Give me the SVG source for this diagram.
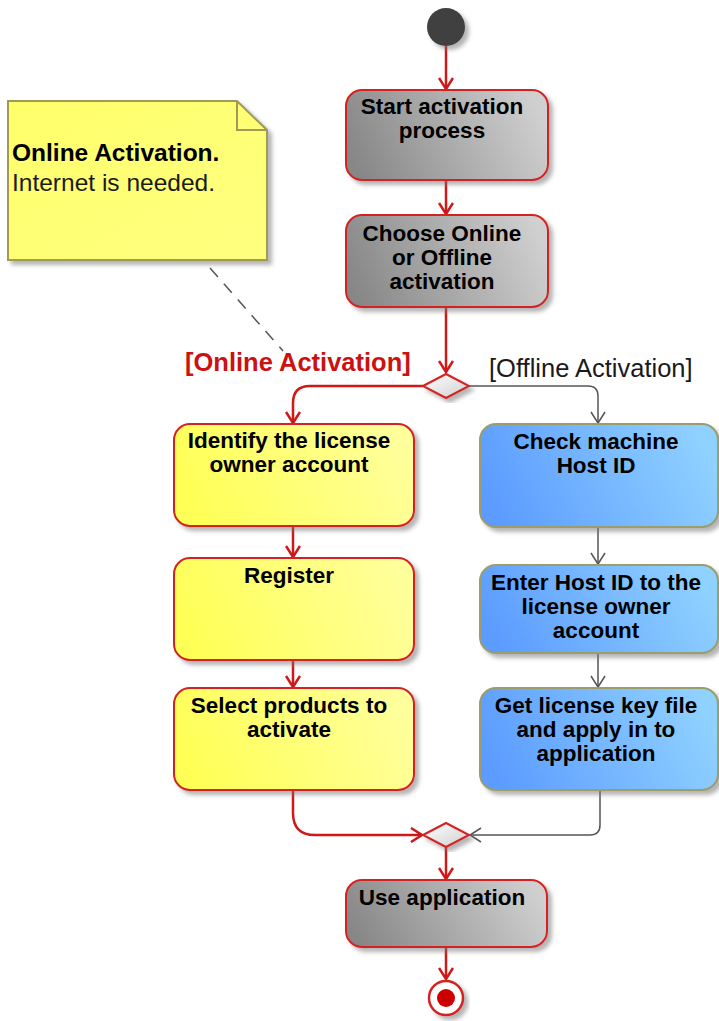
<svg xmlns="http://www.w3.org/2000/svg" width="719" height="1021" viewBox="0 0 719 1021">
<defs>
<linearGradient id="gGray" x1="0" y1="0.6" x2="1" y2="0.4"><stop offset="0" stop-color="#878787"/><stop offset="1" stop-color="#d0d0d0"/></linearGradient>
<linearGradient id="gYel" x1="0" y1="0.6" x2="1" y2="0.4"><stop offset="0" stop-color="#ffff55"/><stop offset="1" stop-color="#ffff9c"/></linearGradient>
<linearGradient id="gBlue" x1="0" y1="0.6" x2="1" y2="0.4"><stop offset="0" stop-color="#5b9bff"/><stop offset="1" stop-color="#90d2ff"/></linearGradient>
<linearGradient id="gNote" x1="0" y1="0" x2="1" y2="1"><stop offset="0" stop-color="#ffff6a"/><stop offset="1" stop-color="#ffff80"/></linearGradient>
<linearGradient id="gDia" x1="0" y1="0" x2="1" y2="1"><stop offset="0" stop-color="#ffffff"/><stop offset="1" stop-color="#cfcfcf"/></linearGradient>
<filter id="sh" x="-10%" y="-10%" width="130%" height="130%"><feDropShadow dx="4" dy="4" stdDeviation="2" flood-color="#777" flood-opacity="0.55"/></filter>
<marker id="aRed" viewBox="0 0 14 16" refX="12" refY="8" markerWidth="14" markerHeight="16" markerUnits="userSpaceOnUse" orient="auto"><path d="M1,1 L12,8 L1,15" fill="none" stroke="#d01818" stroke-width="2.5"/></marker>
<marker id="aGray" viewBox="0 0 14 16" refX="12" refY="8" markerWidth="14" markerHeight="16" markerUnits="userSpaceOnUse" orient="auto"><path d="M1,1 L12,8 L1,15" fill="none" stroke="#555" stroke-width="1.5"/></marker>
</defs>
<style>
.nt{font-family:"Liberation Sans",Arial,sans-serif;font-weight:bold;font-size:22.5px;fill:#000;text-anchor:middle}
.gray{fill:url(#gGray);stroke:#d42424;stroke-width:2}
.yel{fill:url(#gYel);stroke:#d42424;stroke-width:2}
.blue{fill:url(#gBlue);stroke:#9c9c6c;stroke-width:2}
.red{fill:none;stroke:#d01818;stroke-width:2.5}
.gr{fill:none;stroke:#555;stroke-width:1.5}
</style>
<rect width="719" height="1021" fill="#fff"/>

<g id="connectors">
<path class="red" d="M446,46 V89" marker-end="url(#aRed)"/>
<path class="red" d="M446,180 V214" marker-end="url(#aRed)"/>
<path class="red" d="M446,307 V372" marker-end="url(#aRed)"/>
<path class="red" d="M423,386 H310 Q293,386 293,403 V423" marker-end="url(#aRed)"/>
<path class="gr" d="M469,386 H588 Q598,386 598,396 V423" marker-end="url(#aGray)"/>
<path class="red" d="M293,526 V557" marker-end="url(#aRed)"/>
<path class="red" d="M293,660 V687" marker-end="url(#aRed)"/>
<path class="gr" d="M598,527 V564" marker-end="url(#aGray)"/>
<path class="gr" d="M598,653 V687" marker-end="url(#aGray)"/>
<path class="red" d="M293,790 V813 Q293,835 315,835 H422" marker-end="url(#aRed)"/>
<path class="gr" d="M600,790 V825 Q600,835 590,835 H470" marker-end="url(#aGray)"/>
<path class="red" d="M446,847 V879" marker-end="url(#aRed)"/>
<path class="red" d="M446,947 V979" marker-end="url(#aRed)"/>
<path d="M210,268 L283,351" fill="none" stroke="#555" stroke-width="1.5" stroke-dasharray="12,9"/>
<text x="185" y="371" font-family="Liberation Sans,Arial,sans-serif" font-weight="bold" font-size="25.5" fill="#cc1111">[Online Activation]</text>
<text x="489" y="377" font-family="Liberation Sans,Arial,sans-serif" font-size="25.5" fill="#1a1a1a">[Offline Activation]</text>
</g>

<g id="note">
<path d="M8,101 H237 L267,130 V260 H8 Z" fill="url(#gNote)" stroke="#a09a55" stroke-width="2" filter="url(#sh)"/>
<path d="M237,101 V130 H267" fill="none" stroke="#a09a55" stroke-width="2"/>
<text x="12" y="161" font-family="Liberation Sans,Arial,sans-serif" font-weight="bold" font-size="24.5" fill="#000">Online Activation.</text>
<text x="12" y="191" font-family="Liberation Sans,Arial,sans-serif" font-size="24.5" fill="#1a1a1a">Internet is needed.</text>
</g>

<g id="initial"><circle cx="446" cy="27" r="19" fill="#404040" filter="url(#sh)"/></g>

<g id="start">
<rect class="gray" x="346" y="90" width="202" height="90" rx="16" filter="url(#sh)"/>
<text class="nt" x="442" y="114">Start activation</text>
<text class="nt" x="442" y="138">process</text>
</g>

<g id="choose">
<rect class="gray" x="346" y="215" width="202" height="92" rx="16" filter="url(#sh)"/>
<text class="nt" x="442" y="241">Choose Online</text>
<text class="nt" x="442" y="265">or Offline</text>
<text class="nt" x="442" y="289">activation</text>
</g>

<g id="decision"><path d="M423,386 L446,374 L469,386 L446,398 Z" fill="url(#gDia)" stroke="#d42424" stroke-width="2" filter="url(#sh)"/></g>

<g id="identify">
<rect class="yel" x="174" y="424" width="240" height="102" rx="16" filter="url(#sh)"/>
<text class="nt" x="289" y="448">Identify the license</text>
<text class="nt" x="289" y="472">owner account</text>
</g>

<g id="register">
<rect class="yel" x="174" y="558" width="240" height="102" rx="16" filter="url(#sh)"/>
<text class="nt" x="289" y="583">Register</text>
</g>

<g id="select">
<rect class="yel" x="174" y="688" width="240" height="102" rx="16" filter="url(#sh)"/>
<text class="nt" x="289" y="713">Select products to</text>
<text class="nt" x="289" y="737">activate</text>
</g>

<g id="check">
<rect class="blue" x="480" y="424" width="238" height="103" rx="16" filter="url(#sh)"/>
<text class="nt" x="596" y="449">Check machine</text>
<text class="nt" x="596" y="473">Host ID</text>
</g>

<g id="enter">
<rect class="blue" x="480" y="565" width="238" height="88" rx="16" filter="url(#sh)"/>
<text class="nt" x="596" y="590">Enter Host ID to the</text>
<text class="nt" x="596" y="614">license owner</text>
<text class="nt" x="596" y="638">account</text>
</g>

<g id="getkey">
<rect class="blue" x="480" y="688" width="238" height="102" rx="16" filter="url(#sh)"/>
<text class="nt" x="596" y="713">Get license key file</text>
<text class="nt" x="596" y="737">and apply in to</text>
<text class="nt" x="596" y="761">application</text>
</g>

<g id="merge"><path d="M423,835 L446,823 L469,835 L446,847 Z" fill="url(#gDia)" stroke="#d42424" stroke-width="2" filter="url(#sh)"/></g>

<g id="use">
<rect class="gray" x="346" y="880" width="201" height="67" rx="16" filter="url(#sh)"/>
<text class="nt" x="442" y="905">Use application</text>
</g>

<g id="final">
<circle cx="446" cy="998" r="17" fill="#fff" stroke="#d42424" stroke-width="2.5" filter="url(#sh)"/>
<circle cx="446" cy="998" r="9" fill="#cc0000"/>
</g>
</svg>
